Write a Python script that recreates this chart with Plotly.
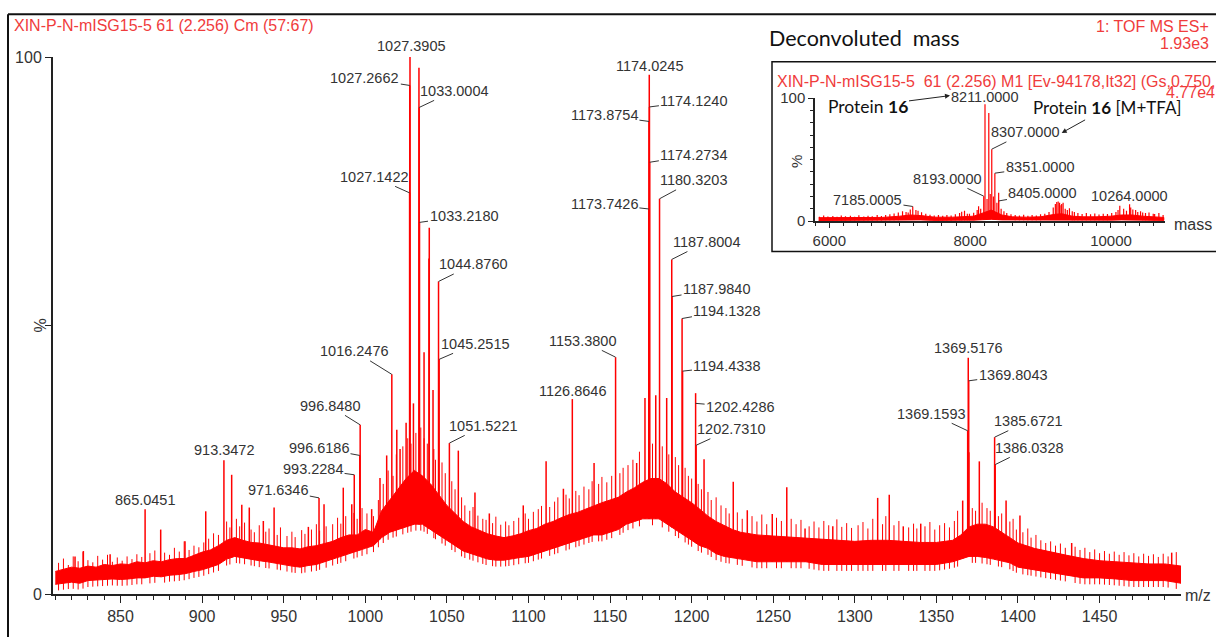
import numpy as np
import plotly.graph_objects as go

# ---------------- main spectrum data (m/z, % relative intensity) ----------------
env_mz = [810, 815, 820, 825, 830, 835, 840, 845, 850, 855, 860, 865, 870, 875, 880, 885, 890, 895,
          900, 905, 910, 915, 920, 925, 930, 935, 940, 945, 950, 955, 960, 965, 970, 975, 980, 985,
          990, 995, 1000, 1005, 1010, 1015, 1020, 1025, 1030, 1035, 1040, 1045, 1050, 1055, 1060,
          1065, 1070, 1075, 1080, 1085, 1090, 1095, 1100, 1105, 1110, 1115, 1120, 1125, 1130, 1135,
          1140, 1145, 1150, 1155, 1160, 1165, 1170, 1175, 1180, 1185, 1190, 1195, 1200, 1205, 1210,
          1215, 1220, 1225, 1230, 1240, 1250, 1260, 1270, 1280, 1290, 1300, 1310, 1320, 1330, 1340,
          1350, 1360, 1365, 1370, 1375, 1380, 1385, 1390, 1395, 1400, 1410, 1420, 1430, 1440, 1450,
          1460, 1470, 1480, 1490, 1500]
env_high = [4.2, 4.6, 5.0, 4.8, 5.2, 5.0, 5.5, 5.3, 5.6, 5.5, 6.0, 5.8, 6.2, 6.0, 6.4, 6.6, 6.6, 7.2,
            7.8, 8.2, 9.0, 10.0, 10.5, 10.0, 9.6, 9.5, 9.2, 9.0, 8.6, 8.6, 8.4, 8.8, 9.0, 9.4, 9.8, 10.5,
            11.0, 11.0, 12.0, 11.5, 15.5, 17.5, 19.5, 21.5, 23.0, 22.0, 20.5, 18.5, 16.5, 15.0, 13.5,
            12.5, 11.8, 11.2, 10.8, 10.5, 10.8, 11.2, 11.8, 12.2, 13.0, 13.5, 14.2, 14.8, 15.2, 15.8,
            16.5, 17.0, 17.5, 18.0, 19.0, 19.8, 20.8, 21.5, 21.5, 20.5, 19.0, 18.0, 17.0, 15.8, 14.5,
            13.5, 12.8, 12.0, 11.5, 11.0, 10.8, 10.6, 10.4, 10.2, 10.0, 9.8, 10.0, 10.0, 9.8, 9.6,
            9.6, 10.0, 11.0, 12.5, 13.0, 13.0, 12.5, 11.5, 10.5, 9.5, 8.5, 7.8, 7.2, 6.6, 6.2,
            6.0, 5.8, 5.6, 5.6, 5.2]
env_low = [1.8, 2.0, 2.2, 2.0, 2.5, 2.6, 2.7, 2.8, 2.7, 2.8, 3.0, 3.0, 3.3, 3.2, 3.5, 3.6, 3.8, 4.2,
           4.5, 5.0, 5.5, 6.5, 7.0, 6.8, 6.5, 6.2, 6.0, 5.8, 5.5, 5.2, 5.0, 5.3, 5.5, 6.0, 6.5, 7.0,
           7.5, 8.0, 8.5, 9.0, 10.5, 11.5, 12.0, 12.5, 13.0, 13.0, 12.0, 11.0, 10.0, 9.0, 8.0,
           7.5, 7.0, 6.5, 6.3, 6.3, 6.5, 6.8, 7.0, 7.5, 8.0, 8.5, 9.0, 9.5, 10.0, 10.5,
           11.0, 11.0, 11.5, 12.0, 13.0, 13.5, 14.0, 14.0, 14.0, 13.0, 12.0, 11.0, 10.0, 9.0, 8.5,
           7.5, 7.0, 6.8, 6.5, 6.0, 6.0, 6.0, 6.0, 5.5, 5.5, 5.5, 5.5, 5.5, 5.5, 5.5,
           5.5, 6.0, 6.5, 7.0, 7.0, 6.8, 6.5, 6.2, 5.8, 5.0, 4.5, 4.0, 3.5, 3.0, 3.0,
           2.8, 2.5, 2.5, 2.5, 2.0]

peak_labels = ["1027.3905", "1027.2662", "1033.0004", "1027.1422", "1033.2180",
               "1044.8760", "1045.2515", "1016.2476", "996.8480", "996.6186",
               "993.2284", "971.6346", "913.3472", "865.0451", "1051.5221",
               "1126.8646", "1153.3800", "1174.0245", "1174.1240", "1173.8754",
               "1174.2734", "1180.3203", "1173.7426", "1187.8004", "1187.9840",
               "1194.1328", "1194.4338", "1202.4286", "1202.7310", "1369.5176",
               "1369.8043", "1369.1593", "1385.6721", "1386.0328"]
peak_mz = [float(s) for s in peak_labels]
peak_pct = [100, 94.7, 90.6, 74.7, 69.2,
            58.2, 43.7, 40.9, 31.5, 25.8,
            22.2, 17.9, 24.9, 15.8, 28.1,
            36.3, 44.1, 96.7, 90.7, 88.0,
            80.4, 73.6, 71.7, 62.3, 55.4,
            51.3, 41.5, 37.4, 27.7, 44.0,
            39.7, 30.4, 29.2, 24.1]

# other distinct (unlabelled) peaks
spike_mz = [822.1, 827.2, 843.6, 874.6, 889.5, 902.2, 918.1, 924.3, 928.9, 937.5,
            944.1, 965.1, 974.7, 986.5, 991.7, 1003.9, 1009.0, 1013.1, 1019.3, 1021.3,
            1025.0, 1029.5, 1032.88, 1036.0, 1039.0, 1039.2, 1041.5, 1057.0, 1067.2, 1076.0,
            1096.8, 1110.8, 1121.4, 1140.2, 1166.3, 1171.4, 1178.0, 1184.7, 1207.6, 1225.5,
            1234.1, 1249.4, 1258.3, 1269.5, 1286.5, 1314.0, 1321.1, 1329.7, 1340.4, 1366.1,
            1369.9, 1376.3, 1392.7, 1401.2, 1432.9, 1494.2]
spike_pct = [7, 8, 7.4, 12, 9.8, 15.4, 22.2, 16.6, 16.1, 13.6,
             16.1, 12.5, 16.7, 19.8, 16.7, 15.8, 21.6, 25.8, 30.6, 27,
             31.9, 35.5, 98, 45, 62.5, 68.2, 38, 26.7, 18.9, 15,
             16.5, 24.7, 19.6, 24.4, 24.4, 36.5, 37, 36.5, 25.1, 20.9,
             15.6, 14.9, 19.9, 12.2, 12.6, 17.9, 18.5, 12.6, 13.1, 17.4,
             26.4, 24.7, 17.4, 14.6, 9.5, 7.7]

# small noise spikes on top of the baseline
noise_mz = [812, 815, 818, 821, 824, 827, 830, 833, 836, 839, 842, 845, 848, 851, 854, 857, 860, 863,
            868, 871, 877, 880, 883, 886, 889, 892, 895, 898,
            901, 904, 907, 910, 915, 917, 921, 923, 926, 930, 932, 935, 939, 941, 946, 948, 952, 955,
            957, 961, 963, 967, 970, 972, 976, 980, 983, 985, 988, 993, 995, 998, 1001, 1005, 1008,
            1011, 1014, 1017, 1019, 1023, 1026, 1028, 1031, 1034, 1036, 1038, 1042, 1043, 1047, 1049,
            1053, 1055, 1059, 1061,
            1064, 1066, 1069, 1072, 1074, 1078, 1080, 1083, 1086, 1088, 1091, 1094, 1098, 1100, 1103,
            1106, 1108, 1113, 1116, 1118,
            1123, 1125, 1129, 1131, 1134, 1137, 1139, 1143, 1145, 1148, 1151, 1156, 1158, 1161, 1164,
            1168, 1176, 1182, 1186, 1190, 1192, 1196, 1198, 1200, 1204,
            1206, 1210, 1212, 1215, 1218, 1221, 1223, 1228, 1231, 1237, 1240, 1243, 1246, 1252, 1255,
            1261, 1264, 1267, 1272, 1275, 1278, 1281, 1284, 1289, 1292, 1295, 1298,
            1302, 1305, 1308, 1311, 1317, 1319, 1324, 1327, 1333, 1336, 1338, 1343, 1346, 1349, 1352,
            1355, 1358, 1361, 1363, 1372, 1374, 1378, 1381, 1383, 1388, 1390, 1395, 1397, 1399,
            1403, 1406, 1408, 1411, 1414, 1417, 1420, 1423, 1426, 1429, 1435, 1438, 1441, 1444, 1447,
            1450, 1453, 1456, 1459, 1462, 1465, 1468, 1471, 1474, 1477, 1480, 1483, 1486, 1489, 1492,
            1497]
noise_pct = [5.8, 6.6, 5.4, 7.0, 6.1, 7.8, 6.3, 5.9, 7.1, 6.4, 7.3, 6.0, 6.8, 6.2, 7.0, 6.5, 7.4, 6.9,
             7.6, 8.1, 7.7, 7.3, 8.6, 7.9, 9.8, 8.2, 9.0, 8.7,
             9.6, 10.3, 11.3, 11.0, 13.5, 12.4, 14.0, 12.6, 13.3, 12.0, 11.5, 12.8, 11.6, 12.2, 11.0,
             12.4, 10.8, 11.6, 10.6, 11.9, 11.2, 12.0, 13.0, 11.8, 12.6, 13.0, 14.2, 13.1, 14.5, 15.1,
             14.0, 16.0, 15.0, 14.5, 17.5,
             20.5, 23.0, 22.0, 26.0, 27.5, 29.0, 28.0, 30.0, 31.0, 29.0, 28.0, 27.0, 25.0, 24.5, 22.5,
             21.0, 19.5, 18.0, 16.5,
             15.5, 16.2, 14.6, 14.0, 13.8, 13.2, 14.4, 12.9, 13.5, 12.8, 13.6, 14.2, 15.0, 14.0, 15.3,
             15.8, 16.4, 16.2, 17.2, 18.0,
             18.5, 17.8, 19.2, 18.4, 20.0, 19.5, 21.0, 20.5, 21.8, 20.8, 22.0, 22.5, 23.5, 24.0, 25.0,
             26.5, 28.0, 27.5, 26.0, 25.5, 24.0, 23.5, 22.0, 21.5, 20.5,
             19.5, 19.0, 17.5, 18.0, 16.5, 16.0, 15.0, 15.2, 14.0, 14.5, 13.5, 14.8, 13.0, 14.2, 13.6,
             14.0, 13.0, 13.8, 12.6, 13.5, 12.4, 13.6, 12.8, 13.9, 12.5, 13.2, 12.3,
             12.8, 13.4, 12.2, 14.0, 13.0, 14.5, 12.8, 13.6, 12.4, 13.1, 12.2, 12.6, 13.4, 12.0, 12.8,
             13.2, 12.4, 13.6, 15.5, 16.0, 15.5, 17.0, 16.0, 15.5, 14.5, 15.0, 13.5, 14.0, 12.0,
             11.5, 12.2, 10.5, 11.0, 10.0, 9.5, 9.8, 9.0, 9.4, 8.6, 8.8, 8.2, 8.6, 7.8, 8.3,
             7.6, 8.0, 7.5, 7.9, 7.3, 7.8, 7.2, 7.6, 7.0, 7.5, 7.1, 7.4, 6.9, 7.5, 7.0,
             7.8]

# ---------------- inset (deconvoluted mass) data ----------------
ins_mass = [5850, 6000, 6250, 6500, 6750, 7000, 7150, 7300, 7500, 7750,
            7900, 8050, 8150, 8300, 8450, 8600, 8800, 9000, 9200, 9300,
            9450, 9600, 9800, 10000, 10150, 10300, 10450, 10600, 10750]
ins_low = [0.5, 0.5, 0.5, 0.5, 0.6, 0.8, 1.0, 1.0, 0.6, 0.6,
           0.8, 0.8, 1.0, 1.5, 1.0, 0.8, 0.6, 0.8, 1.0, 1.0,
           0.8, 0.8, 0.8, 0.8, 1.0, 1.0, 0.8, 0.8, 0.6]
ins_high = [2.8, 2.8, 2.8, 2.8, 3.0, 4.0, 5.0, 4.5, 3.2, 3.2,
            3.8, 4.0, 6.0, 9.0, 5.0, 3.5, 3.2, 3.5, 5.5, 6.0,
            4.0, 3.5, 3.5, 4.0, 5.0, 5.0, 4.0, 3.5, 3.0]

ins_labels = ["8211.0000", "8307.0000", "8351.0000", "8193.0000", "8405.0000",
              "7185.0005", "10264.0000"]
ins_label_mass = [8211, 8307, 8351, 8193, 8405, 7185, 10264]
ins_label_pct = [95, 58.5, 39, 20.3, 16.4, 11.9, 13.7]

ins_spike_mass = [8265, 8405, 8150, 8240, 8285, 8330, 8380, 8440, 7120, 7230,
                  7880, 7960, 9230, 9270, 9300, 9350, 9450, 10125, 10350, 10450, 10600,
                  5860, 5920, 5980, 6050, 6110, 6170, 6230, 6300, 6360, 6420, 6490, 6550, 6610,
                  6680, 6740, 6800, 6860, 6920, 6980, 7040, 7090, 7150, 7260, 7310, 7370, 7430,
                  7490, 7550, 7610, 7670, 7730, 7790, 7850, 7920, 7990, 8050, 8100, 8120, 8480,
                  8520, 8580, 8640, 8700, 8760, 8820, 8880, 8940, 9000, 9060, 9120, 9180, 9210,
                  9250, 9290, 9320, 9380, 9410, 9480, 9530, 9590, 9650, 9710, 9770, 9830, 9890,
                  9950, 10010, 10070, 10100, 10180, 10220, 10280, 10310, 10380, 10420, 10490,
                  10540, 10620, 10680, 10740]
ins_spike_pct = [88, 23, 10, 18, 22, 20, 15, 10, 7, 9,
                 7.7, 6, 15.6, 15, 14, 10, 8, 12.4, 9, 7, 6,
                 3.5, 4.5, 3.8, 4.2, 3.6, 4.6, 3.9, 4.4, 3.5, 4.8, 3.7, 4.3, 4.0,
                 4.9, 4.2, 5.0, 5.5, 6.2, 7.0, 8.0, 7.5, 9.5, 8.5, 7.2, 6.0, 5.2,
                 4.6, 4.9, 4.3, 5.0, 4.5, 5.5, 6.5, 8.5, 6.0, 6.8, 9.0, 12, 8,
                 6.5, 5.5, 5.0, 4.6, 5.1, 4.4, 4.9, 4.6, 5.5, 6.0, 7.5, 11, 14,
                 16, 13, 15, 9, 10.5, 7.5, 6.5, 5.8, 6.5, 5.5, 6.2, 5.4, 6.0,
                 5.8, 6.5, 7.5, 9, 10, 8.5, 11, 9.5, 7.5, 8.0, 6.5,
                 7.0, 5.8, 6.5, 5.0]

RED = "#ff0000"
TXT_RED = "#f03c3c"
LBL = "#333333"
FONT = "Liberation Sans, Arial, sans-serif"

# pixel geometry of plot area
L, R, T, B = 53, 1181, 57, 609
W, H = R - L, B - T


def px(xp):
    return (xp - L) / W


def py(yp):
    return (B - yp) / H


def sticks(mzs, pcts, base_x, base_y, drop=0.0):
    xs, ys = [], []
    for m, p in zip(mzs, pcts):
        b = float(np.interp(m, base_x, base_y)) - drop
        xs += [m, m, None]
        ys += [max(b, 0.3), p, None]
    return xs, ys


fig = go.Figure()

# main band
fig.add_trace(go.Scatter(x=env_mz + env_mz[::-1], y=env_high + env_low[::-1],
                         fill="toself", fillcolor=RED, mode="lines",
                         line=dict(color=RED, width=1), hoverinfo="skip",
                         xaxis="x", yaxis="y"))
nx, ny = sticks(noise_mz, noise_pct, env_mz, env_low, drop=1.2)
fig.add_trace(go.Scatter(x=nx, y=ny, mode="lines", line=dict(color=RED, width=1),
                         hoverinfo="skip", xaxis="x", yaxis="y"))
sx, sy = sticks(peak_mz + spike_mz, peak_pct + spike_pct, env_mz, env_low)
fig.add_trace(go.Scatter(x=sx, y=sy, mode="lines", line=dict(color=RED, width=1.5),
                         hoverinfo="skip", xaxis="x", yaxis="y"))

# inset band and sticks
fig.add_trace(go.Scatter(x=ins_mass + ins_mass[::-1], y=ins_high + ins_low[::-1],
                         fill="toself", fillcolor=RED, mode="lines",
                         line=dict(color=RED, width=1), hoverinfo="skip",
                         xaxis="x2", yaxis="y2"))
ix, iy = sticks(ins_label_mass + ins_spike_mass, ins_label_pct + ins_spike_pct,
                ins_mass, ins_low)
fig.add_trace(go.Scatter(x=ix, y=iy, mode="lines", line=dict(color=RED, width=1.2),
                         hoverinfo="skip", xaxis="x2", yaxis="y2"))

# label offsets (text centre relative to labelled point, px); flag => leader line
label_off = [(1, -11, False), (-45, -7, True), (35, -16.6, True), (-35.6, -16, True), (44.5, -6.3, True),
             (34.5, -17, True), (36, -15.5, True), (-37, -23, True), (-30.4, -19, True), (-40.8, -7.6, True),
             (-41.2, -5.8, True), (-40.7, -8, True), (0, -10, False), (0, -9, False), (34.2, -17.2, True),
             (0, -8, False), (-33, -16.3, True), (0, -9, False), (44.5, -5.6, True), (-44.6, -6, True),
             (44.2, -7, True), (34.2, -18.4, True), (-44.4, -5, True), (34.5, -17.4, True), (44.5, -7.2, True),
             (44.9, -8, True), (44.4, -5, True), (45, 3.7, True), (35, -16, True), (0, -9.4, False),
             (44.5, -6, True), (-36.2, -17, True), (33.7, -16, True), (33.8, -16.7, True)]

ann = []
lfont = dict(family=FONT, size=14.5, color=LBL)
label_target_pct = list(peak_pct)
label_target_pct[27] = 35.5  # leader of 1202.4286 lands below its top
for t, m, p, (dx, dy, arr) in zip(peak_labels, peak_mz, label_target_pct, label_off):
    if arr:
        ann.append(dict(x=m, y=p, xref="x", yref="y", text=t, showarrow=True,
                        ax=dx, ay=dy, arrowhead=0, arrowwidth=1, arrowcolor="#333",
                        standoff=0, font=lfont))
    else:
        ann.append(dict(x=m, y=p, xref="x", yref="y", text=t, showarrow=False,
                        xshift=dx, yshift=-dy, xanchor="center", yanchor="middle", font=lfont))

ins_off = [(0, -7, False), (33.7, -16.8, True), (45.4, -6.4, True), (-36.2, -17.3, True),
           (44.3, -7.7, True), (-45.3, -6.7, True), (0, -8, False)]
for t, m, p, (dx, dy, arr) in zip(ins_labels, ins_label_mass, ins_label_pct, ins_off):
    if arr:
        ann.append(dict(x=m, y=p, xref="x2", yref="y2", text=t, showarrow=True,
                        ax=dx, ay=dy, arrowhead=0, arrowwidth=1, arrowcolor="#333",
                        standoff=0, font=lfont))
    else:
        ann.append(dict(x=m, y=p, xref="x2", yref="y2", text=t, showarrow=False,
                        xshift=dx, yshift=-dy, xanchor="center", yanchor="middle", font=lfont))

# texts
ann += [
    dict(x=px(12), y=py(25), xref="paper", yref="paper", xanchor="left", yanchor="middle",
         text="XIN-P-N-mISG15-5 61 (2.256) Cm (57:67)", showarrow=False,
         font=dict(family=FONT, size=16, color=TXT_RED)),
    dict(x=px(1211), y=py(26), xref="paper", yref="paper", xanchor="right", yanchor="middle",
         text="1: TOF MS ES+", showarrow=False, font=dict(family=FONT, size=16, color=TXT_RED)),
    dict(x=px(1211), y=py(43.5), xref="paper", yref="paper", xanchor="right", yanchor="middle",
         text="1.93e3", showarrow=False, font=dict(family=FONT, size=16, color=TXT_RED)),
    dict(x=px(864.5), y=py(37), xref="paper", yref="paper", xanchor="center", yanchor="middle",
         text="Deconvoluted&nbsp;&nbsp;mass", showarrow=False,
         font=dict(family="Lato, sans-serif", size=21.5, color="#111")),
    dict(x=px(775), y=py(81.7), xref="paper", yref="paper", xanchor="left", yanchor="middle",
         text="XIN-P-N-mISG15-5&nbsp;&nbsp;61 (2.256) M1 [Ev-94178,It32] (Gs,0.750,", showarrow=False,
         font=dict(family=FONT, size=16, color=TXT_RED)),
    dict(x=px(1217), y=py(93.5), xref="paper", yref="paper", xanchor="right", yanchor="middle",
         text="4.77e4", showarrow=False, font=dict(family=FONT, size=16, color=TXT_RED)),
    dict(x=px(40), y=py(333), xref="paper", yref="paper", xanchor="center", yanchor="middle",
         text="%", textangle=-90, showarrow=False, font=dict(family=FONT, size=16, color=LBL)),
    dict(x=px(1198), y=py(611), xref="paper", yref="paper", xanchor="center", yanchor="middle",
         text="m/z", showarrow=False, font=dict(family=FONT, size=16, color=LBL)),
    dict(x=px(796), y=py(165), xref="paper", yref="paper", xanchor="center", yanchor="middle",
         text="%", textangle=-90, showarrow=False, font=dict(family=FONT, size=15, color=LBL)),
    dict(x=px(1192.5), y=py(229), xref="paper", yref="paper", xanchor="center", yanchor="middle",
         text="mass", showarrow=False, font=dict(family=FONT, size=16, color=LBL)),
    # protein arrows
    dict(x=px(950), y=py(96.7), xref="paper", yref="paper", ax=-82.5, ay=10.6,
         text="Protein <b>16</b>", showarrow=True, arrowhead=2, arrowsize=1, arrowwidth=1,
         arrowcolor="#222", standoff=0, font=dict(family="Lato, sans-serif", size=17.5, color="#111")),
    dict(x=px(1061.7), y=py(135), xref="paper", yref="paper", ax=45, ay=-25,
         text="Protein <b>16</b> [M+TFA]", showarrow=True, arrowhead=2, arrowsize=1, arrowwidth=1,
         arrowcolor="#222", standoff=0, font=dict(family="Lato, sans-serif", size=17, color="#111")),
]

shapes = [
    # outer frame (left and top)
    dict(type="line", xref="paper", yref="paper", x0=px(8), x1=px(8), y0=py(660), y1=py(13),
         line=dict(color="#111", width=2)),
    dict(type="line", xref="paper", yref="paper", x0=px(8), x1=px(1230), y0=py(13), y1=py(13),
         line=dict(color="#111", width=2)),
    # inset box
    dict(type="rect", xref="paper", yref="paper", x0=px(772), x1=px(1219), y0=py(257), y1=py(62),
         line=dict(color="#111", width=1.5), fillcolor="white", layer="below"),
]

tfont = dict(family=FONT, size=16, color=LBL)
fig.update_layout(
    width=1216, height=637, margin=dict(l=L, r=1216 - R, t=T, b=637 - B),
    paper_bgcolor="white", plot_bgcolor="rgba(0,0,0,0)", showlegend=False,
    annotations=ann, shapes=shapes,
    xaxis=dict(range=[808.6, 1499.9], domain=[0, 1], anchor="y", showgrid=False, zeroline=False,
               showline=True, linecolor="#222", linewidth=2, ticks="outside", ticklen=7,
               tickcolor="#222", tick0=0, dtick=50, tickfont=tfont,
               minor=dict(dtick=10, tick0=0, ticklen=4, ticks="outside", tickcolor="#222")),
    yaxis=dict(range=[0, 100], domain=[0, 1], anchor="x", showgrid=False, zeroline=False,
               showline=True, linecolor="#222", linewidth=2, ticks="outside", ticklen=6,
               tickcolor="#222", tickmode="array", tickvals=[0, 50, 100], ticktext=["0", "", "100"],
               tickfont=tfont),
    xaxis2=dict(range=[5797, 10767], domain=[px(815), px(1165)], anchor="y2", showgrid=False,
                zeroline=False, showline=True, linecolor="#222", linewidth=1.5, ticks="outside",
                ticklen=5, tickcolor="#222", tickmode="array",
                tickvals=[6000, 7000, 8000, 9000, 10000], ticktext=["6000", "", "8000", "", "10000"],
                tickfont=dict(family=FONT, size=15, color=LBL),
                minor=dict(tickvals=list(range(5800, 10800, 200)), ticklen=3, ticks="outside",
                           tickcolor="#222")),
    yaxis2=dict(range=[0, 100], domain=[py(225.7), py(99.3)], anchor="x2", showgrid=False,
                zeroline=False, showline=True, linecolor="#222", linewidth=1.5, ticks="outside",
                ticklen=5, tickcolor="#222", tickmode="array", tickvals=[0, 50, 100],
                ticktext=["0", "", "100"], tickfont=dict(family=FONT, size=15, color=LBL),
                minor=dict(tickvals=list(range(10, 100, 10)), ticklen=3, ticks="outside",
                           tickcolor="#222")),
)

fig.write_html("out.html")
